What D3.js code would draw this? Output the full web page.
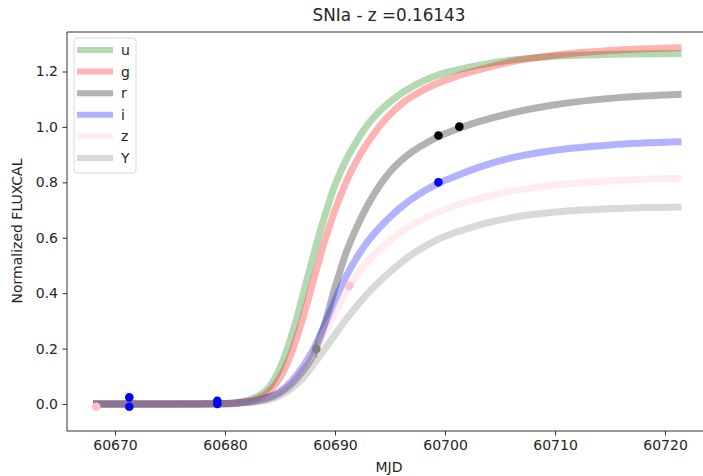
<!DOCTYPE html>
<html><head><meta charset="utf-8">
<script src="https://cdn.jsdelivr.net/npm/d3@7"></script>
<style>body{margin:0;background:#fff;} svg{display:block;font-family:"DejaVu Sans",sans-serif;}</style>
</head><body>
<script>
// ---- data ----
const title = "SNIa - z =0.16143";
const bands = ["u","g","r","i","z","Y"];
const bandColors = ["green","red","black","blue","pink","gray"];
const curveMJD = [60668,60675,60680,60681,60682,60683,60684,60685,60686,60687,60688,60689,60690,60691,60692,60693,60694,60695,60696,60697,60698,60699,60700,60701,60703,60706,60710,60715,60721.5];
const fluxU = [0,0,0.002,0.005,0.012,0.028,0.06,0.13,0.24,0.38,0.53,0.67,0.79,0.88,0.95,1.01,1.055,1.09,1.12,1.145,1.165,1.182,1.195,1.205,1.222,1.241,1.255,1.262,1.265];
const fluxG = [0,0,0.002,0.004,0.009,0.02,0.045,0.095,0.18,0.30,0.44,0.58,0.70,0.80,0.88,0.945,1.0,1.045,1.082,1.11,1.133,1.152,1.168,1.182,1.205,1.235,1.259,1.276,1.286];
const fluxR = [0,0,0.001,0.003,0.006,0.012,0.022,0.04,0.07,0.115,0.175,0.28,0.42,0.545,0.64,0.72,0.785,0.838,0.878,0.91,0.935,0.957,0.975,0.991,1.018,1.05,1.08,1.103,1.118];
const fluxI = [0,0,0.001,0.003,0.007,0.014,0.025,0.045,0.08,0.13,0.195,0.28,0.375,0.46,0.53,0.588,0.635,0.675,0.71,0.74,0.766,0.788,0.807,0.823,0.853,0.888,0.916,0.935,0.946];
const fluxZ = [0,0,0.001,0.003,0.006,0.012,0.02,0.04,0.075,0.12,0.18,0.255,0.33,0.405,0.465,0.515,0.555,0.59,0.62,0.645,0.667,0.686,0.703,0.717,0.74,0.768,0.79,0.806,0.815];
const fluxY = [0,0,0.001,0.002,0.005,0.009,0.015,0.03,0.055,0.09,0.14,0.195,0.25,0.305,0.355,0.40,0.44,0.477,0.51,0.54,0.565,0.587,0.605,0.62,0.645,0.672,0.693,0.705,0.711];
const curveFlux = [fluxU,fluxG,fluxR,fluxI,fluxZ,fluxY];
// observations
const obsBand = ["z","i","i","i","i","Y","z","r","i","r"];
const obsMJD  = [60668.3,60671.3,60671.3,60679.3,60679.3,60688.3,60691.3,60699.4,60699.4,60701.3];
const obsFlux = [-0.01,0.024,-0.01,0.012,0.0,0.199,0.427,0.969,0.80,1.001];
const obsErr  = [0.004,0.005,0.005,0.004,0.004,0.03,0.006,0.006,0.005,0.006];
const xTicks = [60670,60680,60690,60700,60710,60720];
const yTicks = [0.0,0.2,0.4,0.6,0.8,1.0,1.2];

// ---- chart ----
const W=703,H=476;
const svg=d3.select("body").append("svg").attr("width",W).attr("height",H);
const x=d3.scaleLinear().domain([60665.636,60724.18]).range([67,711]);
const y=d3.scaleLinear().domain([-0.0974,1.3425]).range([431,32]);
const txt="#262626";
const fs=14;

svg.append("text").attr("x",389).attr("y",21).attr("text-anchor","middle")
  .attr("font-size",16.8).attr("fill",txt).text(title);

const defs=svg.append("defs");
defs.append("clipPath").attr("id","clip").append("rect").attr("x",67).attr("y",32).attr("width",644).attr("height",399);
const plot=svg.append("g").attr("clip-path","url(#clip)");

const line=d3.line().x(d=>x(d[0])).y(d=>y(d[1])).curve(d3.curveMonotoneX);
bands.forEach((b,i)=>{
  const pts=curveMJD.map((m,k)=>[m,curveFlux[i][k]]);
  plot.append("path").attr("d",line(pts)).attr("fill","none")
    .attr("stroke",bandColors[i]).attr("stroke-opacity",0.3).attr("stroke-width",7)
    .attr("stroke-linecap","butt");
});
obsMJD.forEach((m,k)=>{
  const c=bandColors[bands.indexOf(obsBand[k])];
  plot.append("line").attr("x1",x(m)).attr("x2",x(m)).attr("y1",y(obsFlux[k]-obsErr[k])).attr("y2",y(obsFlux[k]+obsErr[k]))
    .attr("stroke",c).attr("stroke-width",1.5);
  plot.append("circle").attr("cx",x(m)).attr("cy",y(obsFlux[k])).attr("r",4.3).attr("fill",c);
});

// axes
const ax=svg.append("g").attr("transform","translate(0,431)")
  .call(d3.axisBottom(x).tickValues(xTicks).tickFormat(d3.format("d")).tickSizeOuter(0).tickSize(4.5).tickPadding(4.5));
const ay=svg.append("g").attr("transform","translate(67,0)")
  .call(d3.axisLeft(y).tickValues(yTicks).tickFormat(d3.format(".1f")).tickSizeOuter(0).tickSize(4.5).tickPadding(4.5));
[ax,ay].forEach(g=>{
  g.selectAll("text").attr("font-size",fs).attr("fill",txt).attr("font-family","DejaVu Sans");
  g.selectAll("line").attr("stroke","#333");
  g.select(".domain").remove();
});
// spines
svg.append("line").attr("x1",67).attr("x2",703).attr("y1",32).attr("y2",32).attr("stroke","#333");
svg.append("line").attr("x1",67).attr("x2",703).attr("y1",431).attr("y2",431).attr("stroke","#333");
svg.append("line").attr("x1",67).attr("x2",67).attr("y1",32).attr("y2",431).attr("stroke","#333");

svg.append("text").attr("x",389).attr("y",472).attr("text-anchor","middle").attr("font-size",fs).attr("fill",txt).text("MJD");
svg.append("text").attr("transform","translate(22,231) rotate(-90)").attr("text-anchor","middle").attr("font-size",fs).attr("fill",txt).text("Normalized FLUXCAL");

// legend
const lg=svg.append("g");
lg.append("rect").attr("x",74).attr("y",38).attr("width",62).attr("height",135).attr("rx",3)
  .attr("fill","white").attr("fill-opacity",0.8).attr("stroke","#d9d9d9");
bands.forEach((b,i)=>{
  const yy=50+i*21.6;
  lg.append("line").attr("x1",77).attr("x2",113).attr("y1",yy).attr("y2",yy)
    .attr("stroke",bandColors[i]).attr("stroke-opacity",0.3).attr("stroke-width",6);
  lg.append("text").attr("x",121).attr("y",yy+5).attr("font-size",fs).attr("fill",txt).text(b);
});
</script>
</body></html>
